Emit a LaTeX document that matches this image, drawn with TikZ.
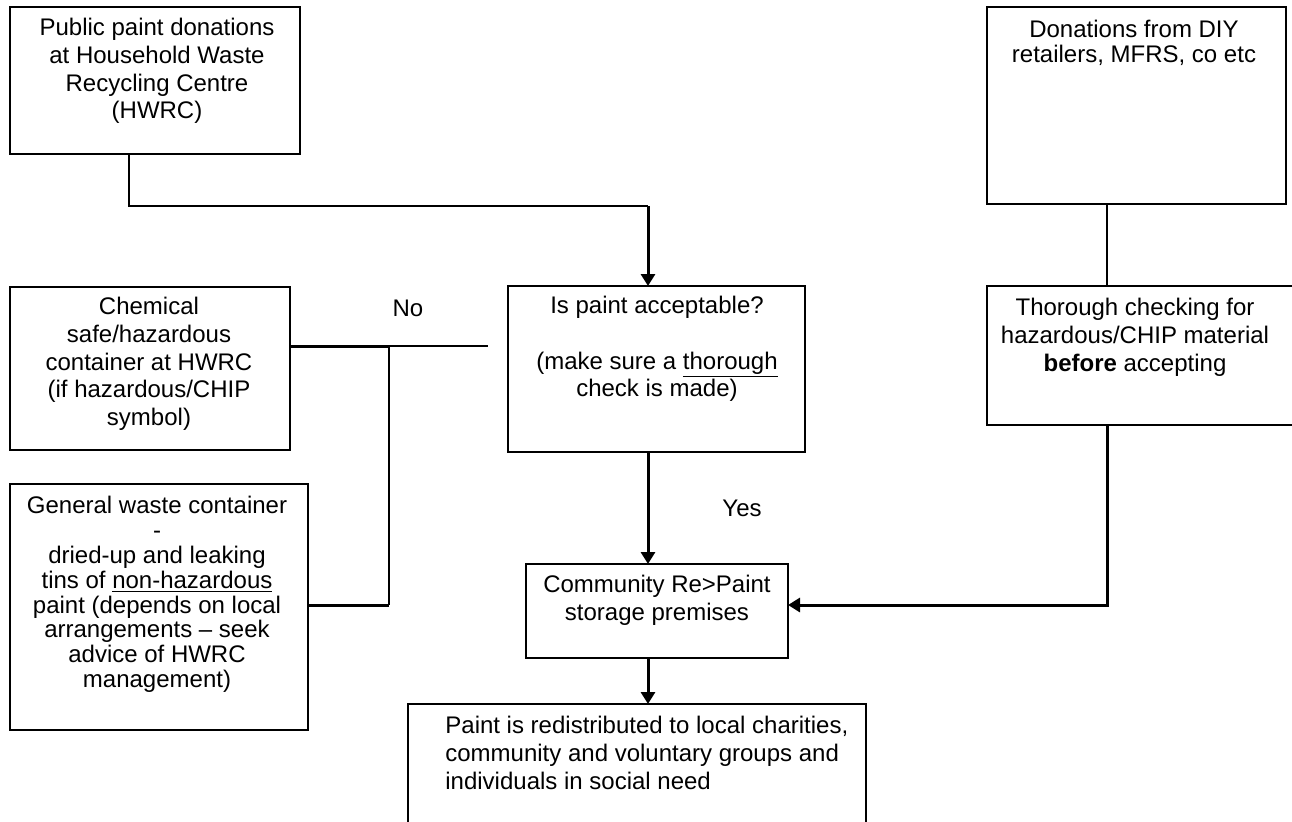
\documentclass[tikz,border=0pt]{standalone}
\usepackage{fontspec}
\setmainfont{Liberation Sans}
\usetikzlibrary{arrows.meta,fit}
\begin{document}
\begin{tikzpicture}[x=0.5pt,y=-0.5pt,
  box/.style={draw, line width=0.6pt, inner sep=0pt, outer sep=0pt},
  txt/.style={inner sep=0pt, align=center, anchor=north, font=\fontsize{12}{13.8}\selectfont},
  tighttxt/.style={txt, font=\fontsize{12}{12.4}\selectfont},
  lbl/.style={inner sep=0pt, font=\fontsize{12}{13.8}\selectfont},
  conn/.style={line width=0.6pt},
  heavy/.style={line width=1.5pt},
  arr/.style={line width=1.5pt, -{Triangle[width=7pt,length=6pt]}}]
\useasboundingbox (0,0) rectangle (1292,821);
\clip (0,0) rectangle (1292,821);
% boxes
\node[box, fit={(10,7) (300,154)}] (A) {};
\node[box, fit={(508,286) (805,452)}] (Q) {};
\node[box, fit={(10,287) (290,450)}] (C) {};
\node[box, fit={(10,484) (308,730)}] (G) {};
\node[box, fit={(526,564) (788,658)}] (S) {};
\node[box, fit={(408,704) (866,840)}] (R) {};
\node[box, fit={(987,7) (1286,204)}] (D) {};
\node[box, fit={(987,286) (1300,425)}] (T) {};
% texts
\node[txt] (At) at (157,18) {Public paint donations\\at Household Waste\\Recycling Centre\\(HWRC)};
\node[txt] (Qt) at (657,296) {Is paint acceptable?\\[13.8pt](make sure a \underline{thorough}\\check is made)};
\node[txt] (Ct) at (149,297) {Chemical\\safe/hazardous\\container at HWRC\\(if hazardous/CHIP\\symbol)};
\node[tighttxt] (Gt) at (157,496) {General waste container\\-\\dried-up and leaking\\tins of \underline{non-hazardous}\\paint (depends on local\\arrangements -- seek\\advice of HWRC\\management)};
\node[txt] (St) at (657,575) {Community Re>Paint\\storage premises};
\node[txt, align=left, anchor=north west] (Rt) at (445,716) {Paint is redistributed to local charities,\\community and voluntary groups and\\individuals in social need};
\node[tighttxt] (Dt) at (1134,20) {Donations from DIY\\retailers, MFRS, co etc};
\node[txt] (Tt) at (1135,298) {Thorough checking for\\hazardous/CHIP material\\\textbf{before} accepting};
\node[lbl] (no) at (408,308) {No};
\node[lbl] (yes) at (742,508) {Yes};
% connectors
\coordinate (j1) at (129,206);
\coordinate (j2) at (648,206);
\draw[conn] (A.south -| j1) -- (j1) -- (j2);
\draw[arr] (j2) -- (Q.north -| j2);
\draw[arr] (Q.south -| j2) -- (S.north -| j2);
\draw[arr] (S.south -| j2) -- (R.north -| j2);
\coordinate (k1) at (1107,605);
\draw[conn] (D.south -| k1) -- (T.north -| k1);
\draw[arr] (T.south -| k1) -- (k1) -- (k1 -| S.east);
\coordinate (n1) at (389,346);
\coordinate (n2) at (488,346);
\coordinate (n3) at (389,605);
\draw[heavy] (n1 -| C.east) -- (n1);
\draw[conn] (n1) -- (n2);
\draw[conn] (n1) -- (n3);
\draw[heavy] (n3 -| G.east) -- (n3);
\end{tikzpicture}
\end{document}
